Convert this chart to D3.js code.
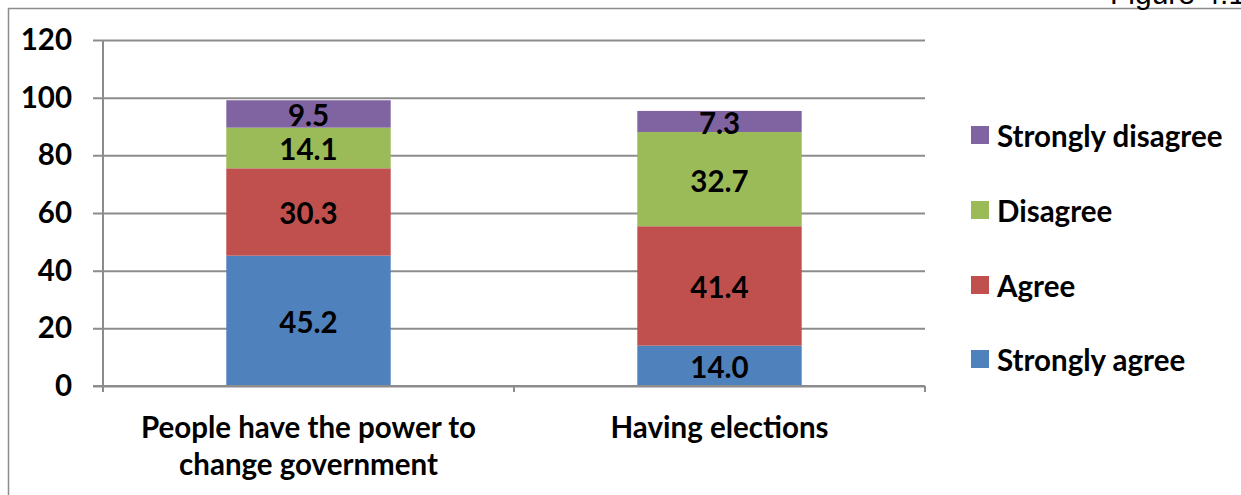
<!DOCTYPE html>
<html><head><meta charset="utf-8">
<script src="https://cdn.jsdelivr.net/npm/d3@7"></script>
<style>body{margin:0;background:#fff}svg{display:block}</style>
</head><body>
<svg id="c" width="1241" height="495"></svg>
<script>
const categories = [["People have the power to","change government"],["Having elections"]];
const seriesNames = ["Strongly agree","Agree","Disagree","Strongly disagree"];
const seriesColors = ["#4F81BD","#C0504D","#9BBB59","#8064A2"];
const stronglyAgree = [45.2, 14.0];
const agree = [30.3, 41.4];
const disagree = [14.1, 32.7];
const stronglyDisagree = [9.5, 7.3];
const yTicks = [0,20,40,60,80,100,120];

const FONT = "Lato, 'Open Sans', sans-serif";
const FS = 29.5;
const svg = d3.select("#c");
svg.append("rect").attr("width",1241).attr("height",495).attr("fill","#fff");
svg.append("rect").attr("x",8.5).attr("y",8.5).attr("width",1300).attr("height",600)
  .attr("fill","none").attr("stroke","#8c8c8c").attr("stroke-width",1.5);
svg.append("text").attr("x",1110).attr("y",4).attr("font-family","Arial, 'Liberation Sans', sans-serif")
  .attr("font-size",30).attr("fill","#000").text("Figure 4.1");

const x0 = 103, x1 = 925;
const y = d3.scaleLinear().domain([0,120]).range([386,40]);
const x = d3.scaleBand().domain(d3.range(categories.length)).range([x0,x1]).paddingInner(0.6).paddingOuter(0.3);
const grey = "#8c8c8c";

// gridlines + y ticks
const ya = d3.axisLeft(y).tickValues(yTicks).tickSize(-(x1-x0)).tickSizeOuter(0).tickPadding(31);
const gy = svg.append("g").attr("transform",`translate(${x0},0)`).call(ya);
gy.select(".domain").remove();
gy.selectAll(".tick line").attr("x1",-10).attr("stroke",grey).attr("stroke-width",2);
gy.selectAll(".tick text").attr("font-family",FONT).attr("font-weight","bold").attr("font-size",FS).attr("fill","#000");
svg.append("line").attr("x1",x0).attr("x2",x0).attr("y1",y(120)).attr("y2",y(0)+6).attr("stroke",grey).attr("stroke-width",2);

// category ticks
const boundaries = [x0, ...d3.range(1,categories.length).map(i=>x(i) - (x.step()-x.bandwidth())/2), x1];
svg.selectAll("line.ct").data(boundaries).join("line").attr("class","ct")
  .attr("x1",d=>d).attr("x2",d=>d).attr("y1",y(0)).attr("y2",y(0)+6).attr("stroke",grey).attr("stroke-width",2);

// stacked bars
const rows = categories.map((c,i)=>({i, "Strongly agree":stronglyAgree[i], "Agree":agree[i], "Disagree":disagree[i], "Strongly disagree":stronglyDisagree[i]}));
const stack = d3.stack().keys(seriesNames)(rows);
stack.forEach((s,k)=>{
  const g = svg.append("g");
  g.selectAll("rect").data(s).join("rect")
    .attr("x",d=>x(d.data.i)).attr("width",x.bandwidth())
    .attr("y",d=>y(d[1])).attr("height",d=>y(d[0])-y(d[1]))
    .attr("fill",seriesColors[k]);
  g.selectAll("text").data(s).join("text")
    .attr("x",d=>x(d.data.i)+x.bandwidth()/2).attr("y",d=>(y(d[0])+y(d[1]))/2+1)
    .attr("text-anchor","middle").attr("dominant-baseline","central")
    .attr("font-family",FONT).attr("font-weight","bold").attr("font-size",FS).attr("fill","#000")
    .text(d=>(d[1]-d[0]).toFixed(1));
});
// x axis line
svg.append("line").attr("x1",x0-10).attr("x2",x1).attr("y1",y(0)).attr("y2",y(0)).attr("stroke",grey).attr("stroke-width",2);

// category labels
categories.forEach((lines,i)=>{
  const t = svg.append("text").attr("text-anchor","middle").attr("font-family",FONT).attr("font-weight","bold").attr("font-size",FS).attr("fill","#000");
  lines.forEach((l,j)=>t.append("tspan").attr("x",x(i)+x.bandwidth()/2).attr("y",438+j*37).text(l));
});

// legend
const legendY = [359, 285, 210, 135];
seriesNames.forEach((n,k)=>{
  svg.append("rect").attr("x",971).attr("y",legendY[k]-9).attr("width",18).attr("height",18).attr("fill",seriesColors[k]);
  svg.append("text").attr("x",997).attr("y",legendY[k]).attr("dominant-baseline","central")
    .attr("font-family",FONT).attr("font-weight","bold").attr("font-size",FS).attr("fill","#000").text(n);
});
</script>
</body></html>
